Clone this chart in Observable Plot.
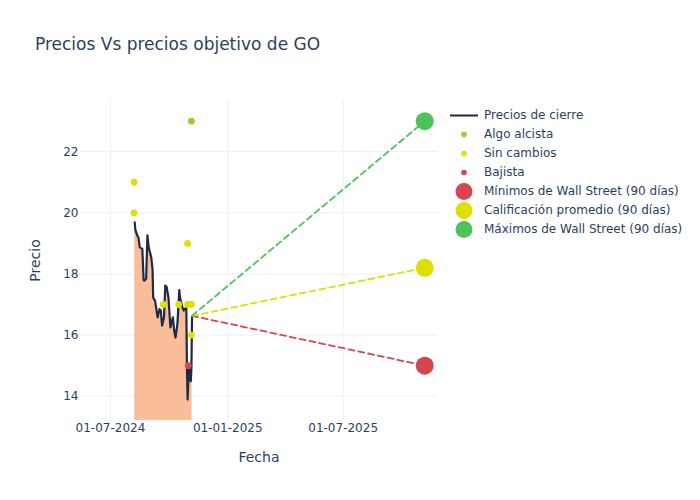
<!DOCTYPE html>
<html><head><meta charset="utf-8">
<script src="https://cdn.jsdelivr.net/npm/d3@7"></script>
<script src="https://cdn.jsdelivr.net/npm/@observablehq/plot@0.6"></script>
<style>
body{margin:0;background:#fff;font-family:"DejaVu Sans",sans-serif;}
#wrap{position:relative;width:700px;height:500px;}
#chart{position:absolute;left:0;top:0;}
#title{position:absolute;left:35px;top:34px;font-size:17px;line-height:20px;color:#2a3f5f;white-space:nowrap;}
#legend{position:absolute;left:450px;top:105.5px;font-size:12px;color:#2a3f5f;}
.row{height:19px;display:flex;align-items:center;white-space:nowrap;}
.row svg{width:34px;height:19px;flex:none;}
</style></head><body>
<div id="wrap"><div id="chart"></div><div id="title">Precios Vs precios objetivo de GO</div><div id="legend"></div></div>
<script>
const priceDates = ["2024-08-08","2024-08-09","2024-08-12","2024-08-14","2024-08-16","2024-08-20","2024-08-22","2024-08-23","2024-08-26","2024-08-27","2024-08-28","2024-08-30","2024-09-03","2024-09-05","2024-09-06","2024-09-09","2024-09-11","2024-09-13","2024-09-16","2024-09-18","2024-09-20","2024-09-23","2024-09-25","2024-09-27","2024-09-30","2024-10-03","2024-10-07","2024-10-09","2024-10-11","2024-10-14","2024-10-17","2024-10-18","2024-10-22","2024-10-24","2024-10-25","2024-10-28","2024-10-29","2024-10-30","2024-11-01","2024-11-04","2024-11-05","2024-11-06"];
const priceValues = [19.69,19.45,19.26,19.18,18.87,18.82,17.80,17.78,17.84,18.60,19.26,18.87,18.54,18.16,17.23,17.12,16.85,16.58,16.85,16.80,16.31,16.58,17.62,17.58,17.23,16.25,16.58,16.14,15.92,16.36,17.47,17.23,16.90,16.80,16.85,16.89,14.93,13.89,14.93,14.49,14.93,16.63];

const alcistaDates = ["2024-11-05"];
const alcistaValues = [23];
const sinCambiosDates = ["2024-08-07","2024-08-07","2024-10-30","2024-09-22","2024-10-16","2024-10-30","2024-11-05","2024-11-05"];
const sinCambiosValues = [21,20,19,17,17,17,17,16];
const bajistaDates = ["2024-10-31"];
const bajistaValues = [15];

const targetDate = "2025-11-06";
const targetLabels = ["Mínimos de Wall Street (90 días)","Calificación promedio (90 días)","Máximos de Wall Street (90 días)"];
const targetValues = [15.0, 18.2, 23.0];
const targetColors = ["#d7454f","#dede00","#4dc35a"];

const xTicks = ["2024-07-01","2025-01-01","2025-07-01"];
const yTicks = [14,16,18,20,22];

const pointColors = {alcista:"#94cf32", sin:"#e0e000", bajista:"#d9464f"};
const lineColor = "#1f2a44";
const fillColor = "#f9bd99";

const D = s => new Date(s + "T00:00:00Z");
const price = priceDates.map((d,i)=>({date:D(d), value:priceValues[i]}));
const mk = (ds,vs)=>ds.map((d,i)=>({date:D(d), value:vs[i]}));
const alcista = mk(alcistaDates, alcistaValues);
const sin = mk(sinCambiosDates, sinCambiosValues);
const bajista = mk(bajistaDates, bajistaValues);
const last = price[price.length-1];
const targets = targetValues.map((v,i)=>({date:D(targetDate), value:v, color:targetColors[i], label:targetLabels[i]}));

const chart = Plot.plot({
  width:700, height:500, marginTop:100, marginBottom:80, marginLeft:80, marginRight:263,
  style:{fontFamily:"DejaVu Sans", fontSize:"12px", color:"#2a3f5f", background:"white"},
  x:{type:"utc", domain:[D("2024-05-15"), D("2025-11-26")], ticks:xTicks.map(D), tickFormat:d3.utcFormat("%d-%m-%Y"), tickSize:0, tickPadding:3, label:"Fecha", labelAnchor:"center", labelOffset:41, labelArrow:"none"},
  y:{domain:[13.205, 23.675], ticks:yTicks, tickSize:0, tickPadding:2, label:"Precio", labelAnchor:"center", labelOffset:50, labelArrow:"none"},
  marks:[
    Plot.gridX(xTicks.map(D), {stroke:"#ebf0f8", strokeOpacity:1, strokeWidth:1}),
    Plot.gridY(yTicks, {stroke:"#ebf0f8", strokeOpacity:1, strokeWidth:1}),
    Plot.areaY(price, {x:"date", y:"value", fill:fillColor, clip:true}),
    Plot.line(price, {x:"date", y:"value", stroke:lineColor, strokeWidth:2.2}),
    ...targets.map(t=>Plot.line([{date:last.date, value:last.value},{date:t.date, value:t.value}], {x:"date", y:"value", stroke:t.color, strokeWidth:1.8, strokeDasharray:"6,4"})),
    Plot.dot(alcista, {x:"date", y:"value", r:3.4, fill:pointColors.alcista}),
    Plot.dot(sin, {x:"date", y:"value", r:3.4, fill:pointColors.sin}),
    Plot.dot(bajista, {x:"date", y:"value", r:3.4, fill:pointColors.bajista}),
    Plot.dot(targets, {x:"date", y:"value", r:9, fill:"color"})
  ]
});
document.getElementById("chart").appendChild(chart);
d3.select(chart).selectAll('g[aria-label="x-axis label"] text, g[aria-label="y-axis label"] text').style("font-size","14px");

// legend
const legendItems = [
  {type:"line", color:lineColor, label:"Precios de cierre"},
  {type:"small", color:pointColors.alcista, label:"Algo alcista"},
  {type:"small", color:pointColors.sin, label:"Sin cambios"},
  {type:"small", color:pointColors.bajista, label:"Bajista"},
  ...targets.map(t=>({type:"big", color:t.color, label:t.label}))
];
const lg = d3.select("#legend");
legendItems.forEach(it=>{
  const row = lg.append("div").attr("class","row");
  const s = row.append("svg");
  if(it.type==="line") s.append("line").attr("x1",0).attr("x2",28).attr("y1",9.5).attr("y2",9.5).attr("stroke",it.color).attr("stroke-width",2);
  else s.append("circle").attr("cx",14).attr("cy",9.5).attr("r",it.type==="big"?8.5:2.8).attr("fill",it.color);
  row.append("span").text(it.label);
});
</script>
</body></html>
